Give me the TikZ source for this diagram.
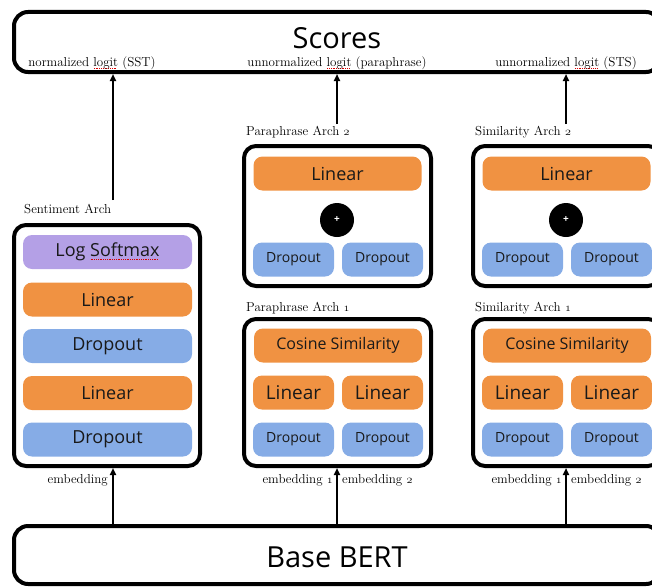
\documentclass[tikz,border=0pt]{standalone}
\usepackage{fontspec}
\setsansfont{Open Sans}
\usetikzlibrary{arrows.meta}

\definecolor{layerorange}{RGB}{240,146,66}
\definecolor{layerblue}{RGB}{134,172,230}
\definecolor{layerpurple}{RGB}{180,160,230}

% old style figures and the red spell-check dots
\newcommand{\osn}[1]{{\usefont{OML}{cmm}{m}{it}#1}}
\newcommand{\spellmark}[1]{\setbox0\hbox{#1}\rlap{\raisebox{-2.5pt}{\color{red!85!black}\hbox to \wd0{\leaders\hbox to 1.8pt{\hss\rule{0.9pt}{0.7pt}\hss}\hfill}}}#1}

\tikzset{
  bar/.style={draw, line width=4pt, rounded corners=14pt, minimum width=646pt, inner sep=0pt},
  bartext/.style={font=\sffamily\fontsize{29}{32}\selectfont, inner sep=0pt},
  archbox/.style={draw, line width=4pt, rounded corners=12pt, inner sep=0pt, minimum width=187pt},
  archlabel/.style={anchor=west, font=\fontsize{13}{15}\selectfont, inner sep=0pt},
  logitlabel/.style={font=\fontsize{13}{15}\selectfont, inner sep=0pt},
  layer/.style={rounded corners=9pt, inner sep=0pt, minimum height=34pt, text=black!90, font=\sffamily\fontsize{18}{20}\selectfont},
  linearbox/.style={layer, fill=layerorange},
  dropbox/.style={layer, fill=layerblue},
  softbox/.style={layer, fill=layerpurple},
  widebox/.style={minimum width=168pt},
  halfbox/.style={minimum width=81pt},
  smalltext/.style={font=\sffamily\fontsize{14}{16}\selectfont},
  plusnode/.style={circle, fill=black, minimum size=34pt, inner sep=0pt, text=white, font=\sffamily\bfseries\fontsize{10}{10}\selectfont},
  flow/.style={line width=2pt, -{Triangle[length=7pt, width=6pt]}},
}

\begin{document}
\begin{tikzpicture}[x=1pt, y=-1pt]
  \clip (0,0) rectangle (652,586);
  % Output and encoder bars
  \node[bar, minimum height=60pt] (scores) at (337,42) {};
  \node[bartext] (scorestext) at (337,38) {Scores};
  \node[bar, minimum height=58pt] (bert) at (337,555) {};
  \node[bartext] (berttext) at (337,557) {Base BERT};
  % Sentiment arch
  \node[archbox, minimum width=186pt, minimum height=241pt] (sent) at (107,345.5) {};
  \node[archlabel] (sentlbl) at (24,209) {Sentiment Arch};
  \node[softbox, minimum width=169pt] (sentsoft) at (107.5,252) {Log \spellmark{Softmax}};
  \node[linearbox, minimum width=169pt] (sentlina) at (107.5,299.5) {Linear};
  \node[dropbox, minimum width=169pt] (sentdropa) at (107.5,346) {Dropout};
  \node[linearbox, minimum width=169pt] (sentlinb) at (107.5,393) {Linear};
  \node[dropbox, minimum width=169pt] (sentdropb) at (107.5,439.5) {Dropout};
  \node[logitlabel] (sentlogit) at (92,63) {normalized \spellmark{logit} (SST)};
  \node[logitlabel, anchor=east] (sentemb) at (108,480) {embedding};
  \coordinate (sentout) at (113,200);
  \coordinate (sentin) at (113,0);
  \draw[flow] (sentout) -- (scores.south -| sentout);
  \draw[flow] (bert.north -| sentin) -- (sent.south -| sentin);
  % Paraphrase and similarity arches
  \foreach \name/\title/\task/\dx in {para/Paraphrase/paraphrase/0, sim/Similarity/STS/229}{
    \begin{scope}[xshift=\dx pt]
      % arch 2: add, then project
      \node[archbox, minimum height=140pt] (arch2\name) at (337.5,216) {};
      \node[archlabel] (lbl2\name) at (246,132) {\title\ Arch \osn{2}};
      \node[linearbox, widebox] (lin2\name) at (337.5,173.5) {Linear};
      \node[plusnode] (add\name) at (337,220) {+};
      \node[dropbox, halfbox, smalltext] (dropa2\name) at (293.5,259.5) {Dropout};
      \node[dropbox, halfbox, smalltext] (dropb2\name) at (382.5,259.5) {Dropout};
      % arch 1: two branches, then cosine
      \node[archbox, minimum height=147pt] (arch1\name) at (337.5,392.5) {};
      \node[archlabel] (lbl1\name) at (246,308) {\title\ Arch \osn{1}};
      \node[linearbox, widebox, font=\sffamily\fontsize{16}{18}\selectfont] (cos1\name) at (338,345.5) {Cosine Similarity};
      \node[linearbox, halfbox, font=\sffamily\fontsize{19}{21}\selectfont] (lina1\name) at (293.5,392.5) {Linear};
      \node[linearbox, halfbox, font=\sffamily\fontsize{19}{21}\selectfont] (linb1\name) at (382.5,392.5) {Linear};
      \node[dropbox, halfbox, smalltext] (dropa1\name) at (293.5,439.5) {Dropout};
      \node[dropbox, halfbox, smalltext] (dropb1\name) at (382.5,439.5) {Dropout};
      % labels and arrows
      \node[logitlabel] (logit\name) at (337,63) {unnormalized \spellmark{logit} (\task)};
      \node[logitlabel, anchor=east] (emba\name) at (333,480) {embedding \osn{1}};
      \node[logitlabel, anchor=west] (embb\name) at (342,480) {embedding \osn{2}};
      \coordinate (out\name) at (337,124);
      \coordinate (in\name) at (337,0);
      \draw[flow] (out\name) -- (scores.south -| out\name);
      \draw[flow] (bert.north -| in\name) -- (arch1\name.south -| in\name);
    \end{scope}
  }
\end{tikzpicture}
\end{document}
